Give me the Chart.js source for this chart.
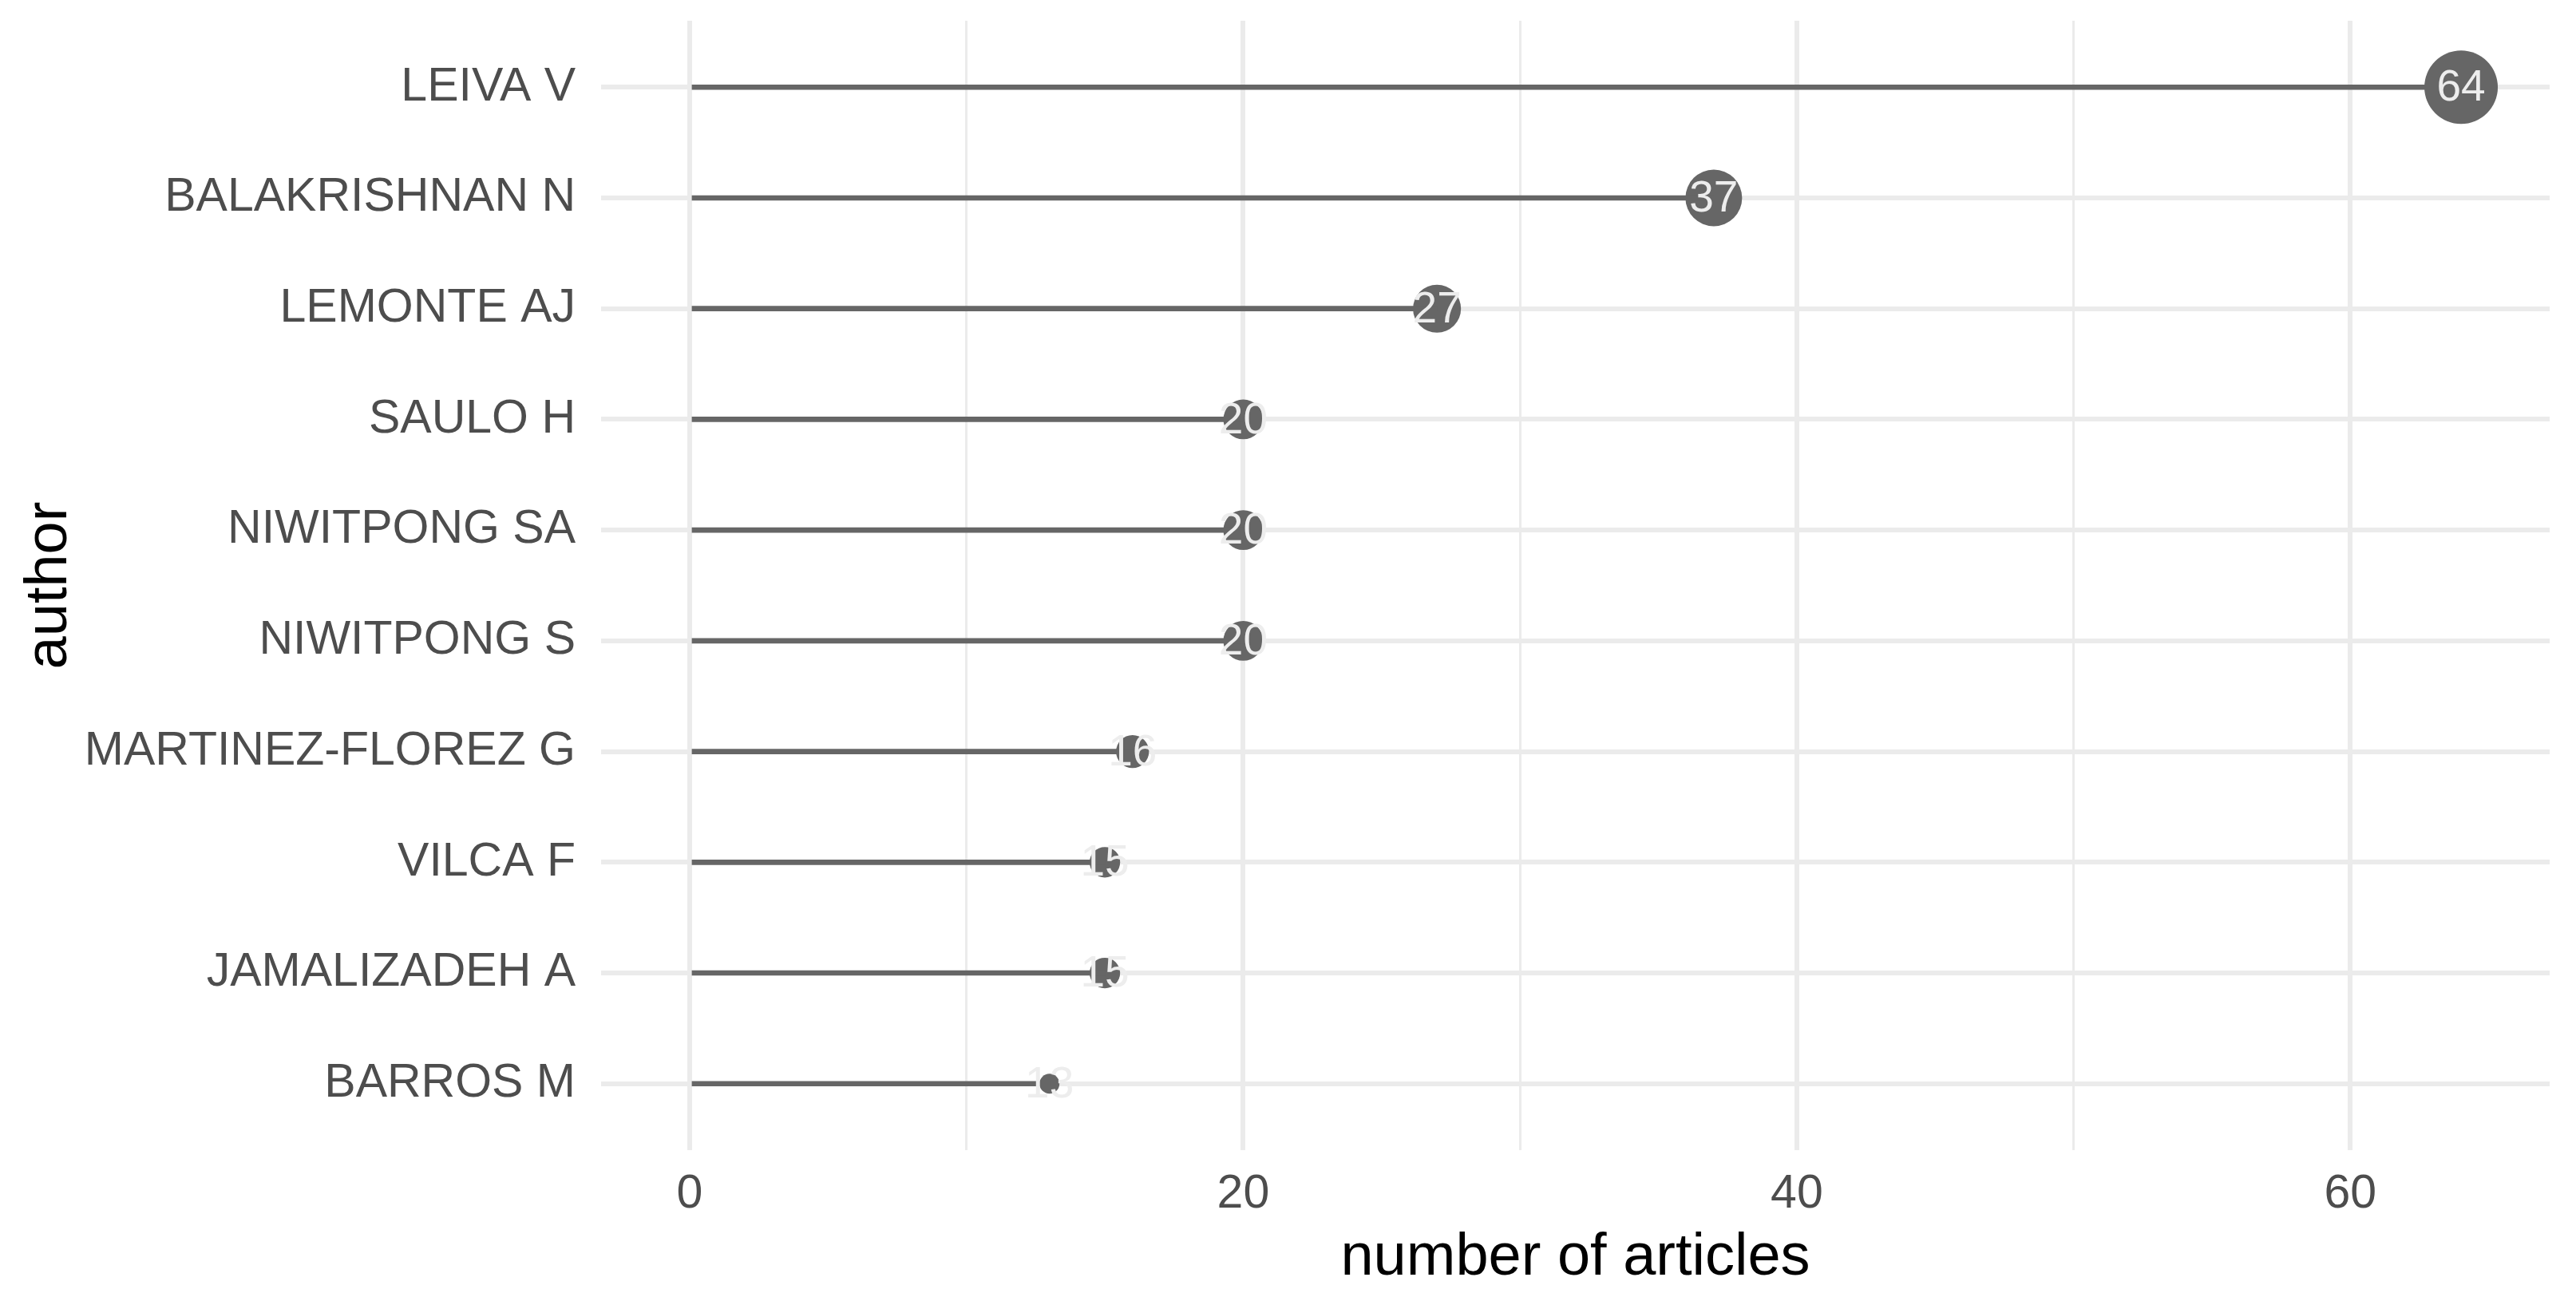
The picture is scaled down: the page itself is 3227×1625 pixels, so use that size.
<!DOCTYPE html>
<html>
<head>
<meta charset="utf-8">
<script src="https://cdn.jsdelivr.net/npm/chart.js@4"></script>
<style>
  body { margin: 0; background: #ffffff; }
  canvas { display: block; }
</style>
</head>
<body>
<canvas id="chart" width="3227" height="1625"></canvas>
<script>
const authors = [
    'LEIVA V', 'BALAKRISHNAN N', 'LEMONTE AJ', 'SAULO H', 'NIWITPONG SA',
    'NIWITPONG S', 'MARTINEZ-FLOREZ G', 'VILCA F', 'JAMALIZADEH A', 'BARROS M'
];
const articles = [64, 37, 27, 20, 20, 20, 16, 15, 15, 13];
const xTicks = [0, 20, 40, 60];

const minA = Math.min(...articles);
const maxA = Math.max(...articles);

// point size grows with the count (area scale, like ggplot's scale_size)
function pointSize(v) {
    const s = 1 + 5 * Math.sqrt((v - minA) / (maxA - minA));
    return 5.8 + 6.7 * s;
}

const points = articles.map((v, i) => ({ x: v, y: i }));

// no extra room for edge tick labels, the layout padding is enough
function noEdgePadding(scale) {
    scale.paddingTop = 0;
    scale.paddingBottom = 0;
    scale.paddingLeft = 0;
    scale.paddingRight = 0;
}

const valueLabels = {
    id: 'valueLabels',
    afterDatasetsDraw(chart) {
        const ctx = chart.ctx;
        const meta = chart.getDatasetMeta(1);
        ctx.save();
        ctx.font = '55px "Liberation Sans"';
        ctx.fillStyle = '#EDEDED';
        ctx.textAlign = 'center';
        ctx.textBaseline = 'middle';
        meta.data.forEach((pt, i) => {
            ctx.fillText(String(articles[i]), pt.x, pt.y + 2);
        });
        ctx.restore();
    }
};

Chart.defaults.font.family = '"Liberation Sans", Arial, sans-serif';

new Chart(document.getElementById('chart'), {
    data: {
        datasets: [
            {
                type: 'bar',
                data: points,
                backgroundColor: '#666666',
                barThickness: 6,
                borderWidth: 0
            },
            {
                type: 'scatter',
                data: points,
                backgroundColor: '#666666',
                borderWidth: 0,
                pointRadius: ctx => pointSize(articles[ctx.dataIndex]),
                pointHoverRadius: ctx => pointSize(articles[ctx.dataIndex])
            }
        ]
    },
    options: {
        indexAxis: 'y',
        responsive: false,
        animation: false,
        devicePixelRatio: 1,
        layout: { autoPadding: false, padding: { top: 26, right: 33, left: 0, bottom: 0 } },
        plugins: {
            legend: { display: false },
            tooltip: { enabled: false }
        },
        scales: {
            x: {
                type: 'linear',
                min: -3.2,
                max: 67.2,
                offset: false,
                border: { display: false },
                grid: {
                    drawTicks: false,
                    offset: false,
                    color: '#EBEBEB',
                    lineWidth: ctx => (xTicks.includes(ctx.tick.value) ? 6 : 3)
                },
                ticks: {
                    stepSize: 10,
                    includeBounds: false,
                    padding: 20,
                    color: '#4D4D4D',
                    font: { size: 59 },
                    callback: v => (xTicks.includes(v) ? String(v) : '')
                },
                title: {
                    display: true,
                    text: 'number of articles',
                    color: '#000000',
                    font: { size: 74 },
                    padding: { top: 5, bottom: 4 }
                },
                afterFit: scale => {
                    scale.height = 184;
                    noEdgePadding(scale);
                }
            },
            y: {
                type: 'linear',
                reverse: true,
                min: -0.6,
                max: 9.6,
                offset: false,
                border: { display: false },
                grid: {
                    drawTicks: false,
                    offset: false,
                    color: '#EBEBEB',
                    lineWidth: 6
                },
                ticks: {
                    stepSize: 1,
                    includeBounds: false,
                    autoSkip: false,
                    padding: 32,
                    color: '#4D4D4D',
                    font: { size: 59 },
                    callback: v => authors[v] || ''
                },
                title: {
                    display: true,
                    text: 'author',
                    color: '#000000',
                    font: { size: 74 },
                    padding: { top: 18, bottom: 18 }
                },
                afterFit: scale => {
                    scale.width = 753;
                    noEdgePadding(scale);
                }
            }
        }
    },
    plugins: [valueLabels]
});
</script>
</body>
</html>
